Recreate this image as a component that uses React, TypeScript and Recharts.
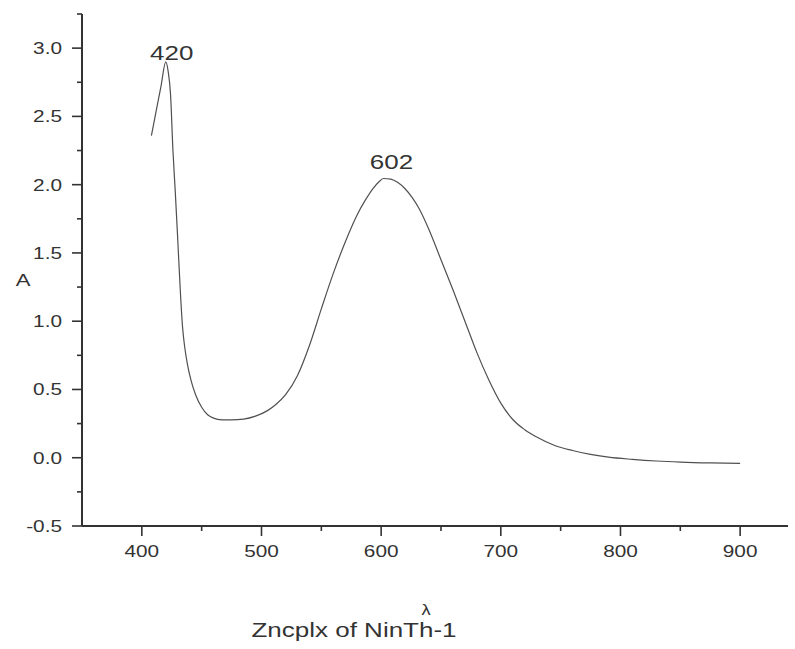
import { LineChart, Line, XAxis, YAxis, ReferenceDot } from 'recharts'

// absorption spectrum of the Zn complex
const wavelengths = [
  408, 412, 416, 420, 422, 424, 426, 428, 430, 432, 434, 436, 438, 441, 445, 450, 455, 460, 467, 475,
  485, 495, 505, 512, 520, 530, 540, 550, 560, 570, 580, 587, 593, 598, 602, 608, 614, 620, 626, 632,
  640, 650, 660, 670, 680, 690, 700, 710, 720, 730, 745, 760, 775, 790, 810, 830, 850, 875, 900,
]
const absorbance = [
  2.36, 2.54, 2.72, 2.9, 2.83, 2.66, 2.25, 1.94, 1.6, 1.25, 0.96, 0.8, 0.69, 0.57, 0.46, 0.37, 0.315, 0.29, 0.278, 0.277,
  0.283, 0.305, 0.345, 0.39, 0.46, 0.6, 0.82, 1.09, 1.35, 1.58, 1.78, 1.89, 1.97, 2.02, 2.045, 2.04, 2.015, 1.97, 1.905, 1.82,
  1.67, 1.45, 1.23, 1.0, 0.77, 0.57, 0.4, 0.28, 0.205, 0.152, 0.09, 0.053, 0.025, 0.004, -0.012, -0.024, -0.032, -0.038, -0.041,
]

const peakWavelengths = [420, 602]
const peakAbsorbance = [2.9, 2.045]
const peakLabelOffset = [
  { dx: 6, dy: -2 },
  { dx: 8, dy: -10 },
]

const xTicks = [400, 450, 500, 550, 600, 650, 700, 750, 800, 850, 900]
const yTicks = [-0.5, -0.25, 0, 0.25, 0.5, 0.75, 1, 1.25, 1.5, 1.75, 2, 2.25, 2.5, 2.75, 3, 3.25]

const data = wavelengths.map((w, i) => ({ w, a: absorbance[i] }))

const INK = '#333'
const STRETCH = 1.3
const FONT = '"Liberation Sans", Arial, sans-serif'

function WideText({ x, y, size, anchor = 'middle', children }: any) {
  return (
    <text
      transform={`translate(${x},${y}) scale(${STRETCH},1)`}
      fontSize={size}
      fontFamily={FONT}
      fill={INK}
      textAnchor={anchor}
    >
      {children}
    </text>
  )
}

function XTick({ x, y, payload }: any) {
  const major = payload.value % 100 === 0
  return (
    <g>
      <line x1={x} x2={x} y1={y} y2={y + (major ? 10 : 5)} stroke={INK} strokeWidth={1.6} />
      {major && (
        <WideText x={x} y={y + 31} size={16}>
          {payload.value}
        </WideText>
      )}
    </g>
  )
}

function YTick({ x, y, payload }: any) {
  const v = payload.value
  const major = Math.abs(v * 2 - Math.round(v * 2)) < 1e-6
  return (
    <g>
      <line x1={x} x2={x - (major ? 10 : 5)} y1={y} y2={y} stroke={INK} strokeWidth={1.6} />
      {major && (
        <WideText x={x - 20} y={y + 6} size={16} anchor="end">
          {v.toFixed(1)}
        </WideText>
      )}
    </g>
  )
}

export default function App() {
  return (
    <div style={{ position: 'absolute', left: 0, top: 0, background: '#fff' }}>
      <LineChart width={795} height={649} data={data} margin={{ top: 14, right: 7, left: 0, bottom: 0 }}>
        <XAxis
          type="number"
          dataKey="w"
          domain={[350, 940]}
          ticks={xTicks}
          interval={0}
          height={123}
          tickSize={0}
          tickMargin={0}
          tickLine={false}
          axisLine={{ stroke: INK, strokeWidth: 2 }}
          tick={<XTick />}
          label={{
            content: ({ viewBox }: any) => (
              <g>
                <WideText x={viewBox.x + 344} y={viewBox.y + 89} size={14}>
                  λ
                </WideText>
                <WideText x={viewBox.x + 272} y={viewBox.y + 111} size={20}>
                  Zncplx of NinTh-1
                </WideText>
              </g>
            ),
          }}
        />
        <YAxis
          type="number"
          domain={[-0.5, 3.25]}
          ticks={yTicks}
          interval={0}
          width={82}
          tickSize={0}
          tickMargin={0}
          tickLine={false}
          axisLine={{ stroke: INK, strokeWidth: 2 }}
          tick={<YTick />}
          label={{
            content: ({ viewBox }: any) => (
              <WideText x={viewBox.x + 23} y={viewBox.y + 272} size={17}>
                A
              </WideText>
            ),
          }}
        />
        <Line
          type="monotone"
          dataKey="a"
          stroke="#505050"
          strokeWidth={1.2}
          dot={false}
          isAnimationActive={false}
        />
        {peakWavelengths.map((w, i) => (
          <ReferenceDot
            key={w}
            x={w}
            y={peakAbsorbance[i]}
            r={0}
            fill="none"
            stroke="none"
            label={{
              content: ({ viewBox }: any) => (
                <WideText
                  x={viewBox.x + viewBox.width / 2 + peakLabelOffset[i].dx}
                  y={viewBox.y + viewBox.height / 2 + peakLabelOffset[i].dy}
                  size={20}
                >
                  {w}
                </WideText>
              ),
            }}
          />
        ))}
      </LineChart>
    </div>
  )
}
